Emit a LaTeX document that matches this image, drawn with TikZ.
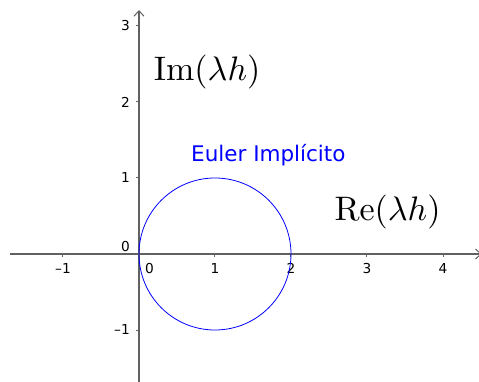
\documentclass[tikz,border=0pt]{standalone}
\usepackage{graphicx}
\usepackage{fontspec}
\newfontfamily\dv{DejaVu Sans}
\usetikzlibrary{arrows.meta}
\begin{document}
\begin{tikzpicture}[x=76pt,y=76pt,
  axis/.style={draw=black!62, line width=1.2pt, -{Straight Barb[length=5.5pt,width=10pt,line width=1pt]}},
  tickmark/.style={draw=black!62, line width=1pt},
  ticklab/.style={inner sep=0pt, font=\dv\fontsize{13.7}{16}\selectfont},
  eulerlab/.style={inner sep=0pt, text=blue, font=\dv\fontsize{21.5}{26}\selectfont},
  mathlab/.style={inner sep=0pt},
  curve/.style={draw=blue, line width=0.8pt}]
\useasboundingbox (-1.8289,-1.6711) rectangle (4.4737,3.3421);
% axes
\coordinate (xs) at (-1.697,0);
\coordinate (xe) at (4.51,0);
\coordinate (ys) at (0,-1.75);
\coordinate (ye) at (0,3.2105);
\draw[axis] (xs) -- (xe);
\draw[axis] (ys) -- (ye);
% x ticks
\foreach \x/\l in {-1/–1,1/1,2/2,3/3,4/4}{
  \draw[tickmark] (\x,0) -- ++(0,-3pt);
  \node[ticklab, anchor=north] (xl\x) at ([yshift=-9pt]\x,0) {\l};
}
\node[ticklab, anchor=north] (xl0) at ([yshift=-9pt]0.138,0) {0};
% y ticks
\foreach \y/\l in {-1/–1,1/1,2/2,3/3}{
  \draw[tickmark] (0,\y) -- ++(-3pt,0);
  \node[ticklab, anchor=east] (yl\y) at ([xshift=-9pt]0,\y) {\l};
}
\node[ticklab, anchor=east] (yl0) at ([xshift=-9pt,yshift=7.3pt]0,0) {0};
% circle
\node[curve, circle, minimum size=152pt, inner sep=0pt] (c) at (1,0) {};
% labels
\node[eulerlab, anchor=base west] (eu) at (0.684,1.211) {Euler Implícito};
\node[mathlab, anchor=base] (im) at (0.896,2.283) {\scalebox{3.4}{$\mathrm{Im}(\lambda h)$}};
\node[mathlab, anchor=base] (re) at (3.27,0.437) {\scalebox{3.4}{$\mathrm{Re}(\lambda h)$}};
\end{tikzpicture}
\end{document}
